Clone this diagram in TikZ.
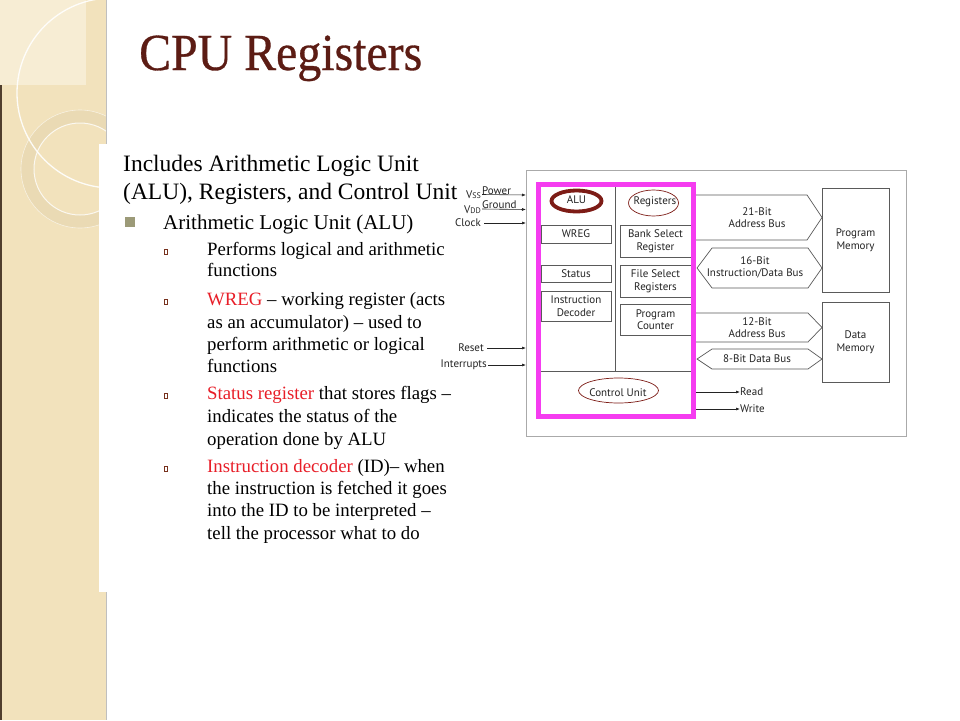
\documentclass[tikz,border=0pt]{standalone}
\usepackage{fontspec}
\setmainfont{Liberation Serif}
\newfontfamily\titlefont{Liberation Serif}[FakeBold=0.6]
\newfontfamily\diafont{PT Sans}
\usetikzlibrary{arrows.meta}
\definecolor{beige}{RGB}{242,226,188}
\definecolor{beigelight}{RGB}{247,237,212}
\definecolor{ringcol}{RGB}{234,218,180}
\definecolor{edgebrown}{RGB}{80,62,45}
\definecolor{titlecol}{RGB}{92,28,20}
\definecolor{txtred}{RGB}{232,30,40}
\definecolor{bulletol}{RGB}{156,154,120}
\definecolor{markbrown}{RGB}{120,50,30}
\definecolor{magentab}{RGB}{245,60,240}
\definecolor{alured}{RGB}{125,28,22}
\definecolor{boxgray}{RGB}{90,90,90}
\definecolor{outgray}{RGB}{170,170,170}
\definecolor{diatext}{RGB}{35,35,35}
\tikzset{
  body1/.style={anchor=base west, inner sep=0pt, font=\fontsize{23.5}{27}\selectfont},
  body2/.style={anchor=base west, inner sep=0pt, font=\fontsize{21}{24}\selectfont},
  body3/.style={anchor=base west, inner sep=0pt, font=\fontsize{18.8}{22}\selectfont},
  submark/.style={draw=markbrown, line width=0.8pt, fill=white, minimum width=3pt, minimum height=5pt, inner sep=0pt},
  regbox/.style={draw=boxgray, line width=0.9pt, inner sep=0pt, align=center, font=\diafont\fontsize{11}{12.5}\selectfont, text=diatext},
  dlabel/.style={inner sep=0pt, align=center, font=\diafont\fontsize{11}{12.5}\selectfont, text=diatext},
  buspath/.style={draw=boxgray, line width=0.7pt},
  sigarrow/.style={draw=diatext, line width=0.6pt, -{Latex[length=4pt,width=3pt]}},
}
\begin{document}
\begin{tikzpicture}[x=1pt,y=-1pt]
\useasboundingbox (0,0) rectangle (960,720);
\fill[white] (0,0) rectangle (960,720);
% left decorative strip
\fill[beige] (0,0) rectangle (106,720);
\begin{scope}
  \clip (0,0) rectangle (106,720);
  \fill[beigelight] (0,0) rectangle (86,85);
  \fill[ringcol, even odd rule] (80,169) circle[radius=59] (80,169) circle[radius=46];
  \draw[white, line width=1pt, opacity=0.8] (80,169) circle[radius=46];
  \draw[white, line width=0.6pt, opacity=0.6] (80,169) circle[radius=59];
  \draw[white, line width=1.3pt, opacity=0.9] (112,93) circle[radius=95];
\end{scope}
\fill[edgebrown] (0,85) rectangle (1.5,720);
\draw[black!25, line width=1pt] (106.5,0) -- (106.5,720);
\fill[white] (99,144) rectangle (107,592);
% title
\node[anchor=base west, inner sep=0pt, xscale=0.92, font=\titlefont\fontsize{52}{56}\selectfont, text=titlecol] (title) at (139,70) {CPU Registers};
% text block
\node[body1] (t1) at (123,171) {Includes Arithmetic Logic Unit};
\node[body1] (t2) at (123,199) {(ALU), Registers, and Control Unit};
\fill[bulletol] (125,216.5) rectangle (135,226.5);
\node[body2] (t3) at (163,229) {Arithmetic Logic Unit (ALU)};
\node[submark] (m1) at (166,252) {};
\node[body3] (s1) at (207,255) {Performs logical and arithmetic};
\node[body3] (s2) at (207,276) {functions};
\node[submark] (m2) at (166,302) {};
\node[body3] (s3) at (207,305) {\textcolor{txtred}{WREG} -- working register (acts};
\node[body3] (s4) at (207,328) {as an accumulator) -- used to};
\node[body3] (s5) at (207,350) {perform arithmetic or logical};
\node[body3] (s6) at (207,372) {functions};
\node[submark] (m3) at (166,396) {};
\node[body3] (s7) at (207,399) {\textcolor{txtred}{Status register} that stores flags --};
\node[body3] (s8) at (207,422) {indicates the status of the};
\node[body3] (s9) at (207,445) {operation done by ALU};
\node[submark] (m4) at (166,469) {};
\node[body3] (s10) at (207,472) {\textcolor{txtred}{Instruction decoder} (ID)-- when};
\node[body3] (s11) at (207,494) {the instruction is fetched it goes};
\node[body3] (s12) at (207,516) {into the ID to be interpreted --};
\node[body3] (s13) at (207,539) {tell the processor what to do};
% diagram outer box
\draw[outgray, line width=0.9pt] (526,170) rectangle (906,436);
% cpu internals
\draw[boxgray, line width=0.8pt] (615.5,187) -- (615.5,371) (541,371) -- (691,371);
\node[regbox, minimum width=70pt, minimum height=18pt] (wreg) at (576,234) {WREG};
\node[regbox, minimum width=70pt, minimum height=17pt] (status) at (576,273.5) {Status};
\node[regbox, minimum width=70pt, minimum height=30pt] (idec) at (576,306) {Instruction\\Decoder};
\node[regbox, minimum width=71pt, minimum height=32pt] (bsr) at (655.5,241) {Bank Select\\Register};
\node[regbox, minimum width=71pt, minimum height=32pt] (fsr) at (655.5,281) {File Select\\Registers};
\node[regbox, minimum width=71pt, minimum height=31pt] (pc) at (655.5,319.5) {Program\\Counter};
\draw[alured, line width=3.8pt] (576.5,201) ellipse[x radius=25, y radius=10.5];
\node[dlabel] (alu) at (576.5,200) {ALU};
\draw[alured, line width=0.7pt] (653.5,203) ellipse[x radius=25, y radius=13];
\node[dlabel] (regs) at (655,202) {Registers};
\draw[alured, line width=0.7pt] (618.5,390.5) ellipse[x radius=40, y radius=12.5];
\node[dlabel] (cu) at (618,393) {Control Unit};
\draw[magentab, line width=5pt] (538.5,184.5) rectangle (693.5,416.5);
% buses
\draw[buspath] (696,195) -- (807,195) -- (822,217.5) -- (807,240) -- (696,240);
\node[dlabel] (b21) at (757,217.5) {21-Bit\\Address Bus};
\draw[buspath] (697,268) -- (712,248) -- (808,248) -- (822,268) -- (808,288) -- (712,288) -- cycle;
\node[dlabel] (b16) at (755,267.5) {16-Bit\\Instruction/Data Bus};
\draw[buspath] (696,313) -- (808,313) -- (822,327.5) -- (808,342) -- (696,342);
\node[dlabel] (b12) at (757,327.5) {12-Bit\\Address Bus};
\draw[buspath] (697,359) -- (712,349) -- (808,349) -- (822,359) -- (808,369) -- (712,369) -- cycle;
\node[dlabel] (b8) at (757,359) {8-Bit Data Bus};
\node[regbox, minimum width=67pt, minimum height=104pt] (pmem) at (855.5,240) {Program\\Memory};
\node[regbox, minimum width=67pt, minimum height=80pt] (dmem) at (855.5,342) {Data\\Memory};
% input signals
\coordinate (inpow) at (526,195);
\coordinate (ingnd) at (526,209.5);
\coordinate (inclk) at (526,223);
\coordinate (inrst) at (526,348);
\coordinate (inint) at (526,365);
\node[dlabel, anchor=south west] (power) at (482,194.5) {Power};
\node[dlabel, anchor=south west] (ground) at (482,209) {Ground};
\node[dlabel, anchor=east] (vss) at (481,195) {V{\fontsize{8}{9}\selectfont SS}};
\node[dlabel, anchor=east] (vdd) at (481,210) {V{\fontsize{8}{9}\selectfont DD}};
\node[dlabel, anchor=east] (clock) at (481,223) {Clock};
\node[dlabel, anchor=east] (reset) at (484,348) {Reset};
\node[dlabel, anchor=east] (intr) at (487,365) {Interrupts};
\draw[sigarrow] (power.south west) -- (inpow);
\draw[sigarrow] (ground.south west) -- (ingnd);
\draw[sigarrow] ([xshift=3pt]clock.east) -- (inclk);
\draw[sigarrow] ([xshift=3pt]reset.east) -- (inrst);
\draw[sigarrow] ([xshift=1pt]intr.east) -- (inint);
% outputs
\node[dlabel, anchor=west] (read) at (740,392) {Read};
\node[dlabel, anchor=west] (write) at (740,409) {Write};
\coordinate (outrd) at (696,392);
\coordinate (outwr) at (696,409);
\draw[sigarrow] (outrd) -- (read.west);
\draw[sigarrow] (outwr) -- (write.west);
\end{tikzpicture}
\end{document}
